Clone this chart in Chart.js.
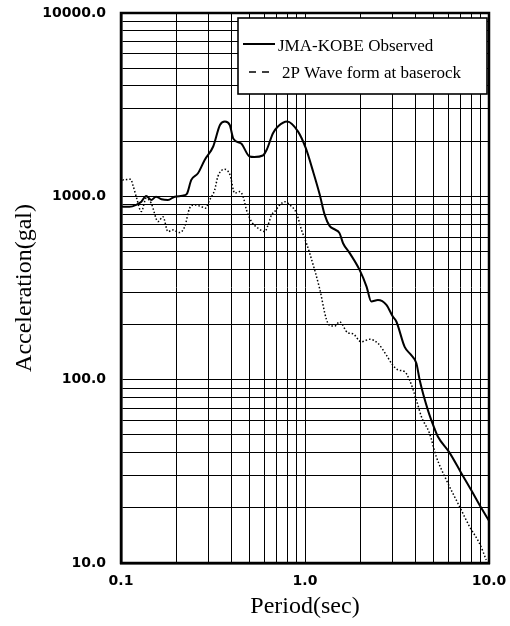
<!DOCTYPE html>
<html>
<head>
<meta charset="utf-8">
<script src="https://cdn.jsdelivr.net/npm/chart.js@4.4.1/dist/chart.umd.min.js"></script>
<style>
  body { margin: 0; background: #fff; }
  #wrap { width: 510px; height: 626px; position: relative; }
</style>
</head>
<body>
<div id="wrap"><canvas id="chart"></canvas></div>
<script>
// JMA-KOBE observed spectrum (period in sec, acceleration in gal)
const obsPeriod = [0.1, 0.111, 0.121, 0.129, 0.137, 0.146, 0.155, 0.166, 0.18, 0.196, 0.222, 0.229, 0.241, 0.262, 0.285, 0.317, 0.345, 0.367, 0.39, 0.408, 0.45, 0.5, 0.53, 0.59, 0.62, 0.67, 0.715, 0.8, 0.917, 1.01, 1.107, 1.2, 1.28, 1.36, 1.45, 1.54, 1.61, 1.75, 1.98, 2.16, 2.29, 2.49, 2.77, 3.0, 3.14, 3.48, 3.78, 4.03, 4.2, 4.66, 5.06, 5.27, 6.1, 7.06, 8.0, 9.07, 10.0];
const obsAccel = [879, 876, 898, 935, 1005, 955, 996, 964, 955, 996, 1014, 1040, 1229, 1336, 1580, 1870, 2450, 2557, 2450, 2060, 1940, 1650, 1640, 1670, 1800, 2210, 2410, 2560, 2254, 1830, 1364, 1030, 792, 690, 660, 630, 555, 490, 397, 322, 267, 272, 256, 221, 207, 151, 136, 123, 99.6, 68, 54, 49, 40, 31, 25, 20, 17];

// 2P wave form at baserock
const basePeriod = [0.1, 0.102, 0.113, 0.116, 0.121, 0.129, 0.137, 0.146, 0.159, 0.169, 0.18, 0.191, 0.208, 0.222, 0.236, 0.251, 0.273, 0.287, 0.303, 0.323, 0.336, 0.366, 0.391, 0.415, 0.443, 0.461, 0.481, 0.512, 0.556, 0.605, 0.63, 0.658, 0.685, 0.729, 0.776, 0.826, 0.899, 0.957, 1.018, 1.06, 1.2, 1.31, 1.39, 1.45, 1.54, 1.71, 1.82, 2.02, 2.25, 2.49, 2.77, 3.0, 3.2, 3.48, 3.7, 4.03, 4.29, 4.75, 5.17, 5.86, 6.92, 7.84, 8.88, 9.66];
const baseAccel = [1282, 1229, 1240, 1154, 996, 826, 977, 917, 728, 775, 642, 656, 634, 684, 861, 898, 879, 861, 955, 1084, 1282, 1406, 1310, 1040, 1061, 996, 843, 728, 670, 642, 698, 792, 826, 898, 935, 898, 809, 656, 555, 490, 315, 212, 196, 196, 207, 180, 178, 161, 166, 158, 136, 120, 113, 110.6, 99.6, 77.5, 62.9, 51, 38, 28.4, 20.3, 15.8, 12.8, 10.4];

const seriesNames = ["JMA-KOBE Observed", "2P Wave form at baserock"];
const xDecades = [0.1, 1, 10];
const yDecades = [10, 100, 1000, 10000];

const toPoints = (xs, ys) => xs.map((x, i) => ({ x: x, y: ys[i] }));

// 1..9 x each decade, last decade only its first line
const logTicks = (decades) => {
  const out = [];
  decades.forEach((d, i) => {
    if (i === decades.length - 1) { out.push({ value: d }); return; }
    for (let k = 1; k <= 9; k++) out.push({ value: d * k });
  });
  return out;
};
const isDecade = (v) => Math.abs(Math.log10(v) - Math.round(Math.log10(v))) < 1e-9;

const tickFont = { family: "DejaVu Sans", size: 14, weight: "bold" };
const titleFont = { family: "Liberation Serif", size: 24, lineHeight: 1.2 };

const frameAndLegend = {
  id: "frameAndLegend",
  afterDraw(chart) {
    const { ctx, chartArea: ca } = chart;
    ctx.save();
    // heavy plot frame
    ctx.strokeStyle = "#000";
    ctx.lineWidth = 2.5;
    ctx.strokeRect(ca.left, ca.top, ca.right - ca.left, ca.bottom - ca.top);

    // legend box inside the top right corner
    const bx = ca.right - 251, by = ca.top + 5, bw = 249, bh = 76;
    ctx.fillStyle = "#fff";
    ctx.fillRect(bx, by, bw, bh);
    ctx.lineWidth = 1.6;
    ctx.strokeRect(bx, by, bw, bh);

    ctx.font = "17px 'Liberation Serif'";
    ctx.fillStyle = "#000";
    ctx.textBaseline = "middle";
    const ds = chart.data.datasets;

    ctx.lineWidth = 2;
    ctx.setLineDash([]);
    ctx.beginPath();
    ctx.moveTo(bx + 5, by + 26);
    ctx.lineTo(bx + 37, by + 26);
    ctx.stroke();
    ctx.fillText(ds[0].label, bx + 40, by + 29);

    ctx.lineWidth = 1.6;
    ctx.setLineDash([7, 6]);
    ctx.beginPath();
    ctx.moveTo(bx + 11, by + 54);
    ctx.lineTo(bx + 31, by + 54);
    ctx.stroke();
    ctx.setLineDash([]);
    ctx.fillText(ds[1].label, bx + 44, by + 56);
    ctx.restore();
  }
};

new Chart(document.getElementById("chart"), {
  type: "line",
  data: {
    datasets: [
      {
        label: seriesNames[0],
        data: toPoints(obsPeriod, obsAccel),
        borderColor: "#000",
        borderWidth: 2,
        pointRadius: 0,
        cubicInterpolationMode: "monotone"
      },
      {
        label: seriesNames[1],
        data: toPoints(basePeriod, baseAccel),
        borderColor: "#000",
        borderWidth: 1.5,
        borderDash: [1.5, 2],
        pointRadius: 0,
        cubicInterpolationMode: "monotone"
      }
    ]
  },
  options: {
    responsive: true,
    maintainAspectRatio: false,
    animation: false,
    layout: { padding: { left: 0, right: 21, top: 13, bottom: 0 } },
    plugins: {
      legend: { display: false },
      tooltip: { enabled: false }
    },
    scales: {
      x: {
        type: "logarithmic",
        min: 0.1,
        max: 10,
        afterBuildTicks: (s) => { s.ticks = logTicks(xDecades); },
        afterFit: (s) => {
          s.height = 63;
          s.paddingLeft = 0;
          s.paddingRight = 0;
        },
        ticks: {
          autoSkip: false,
          maxRotation: 0,
          padding: 10,
          color: "#000",
          font: tickFont,
          callback: (v) => (isDecade(v) ? Number(v).toFixed(1) : "")
        },
        grid: { color: "#000", lineWidth: 1, drawTicks: false },
        border: { color: "#000", width: 2.5 },
        title: {
          display: true,
          text: "Period(sec)",
          color: "#000",
          font: titleFont,
          padding: { top: 0, bottom: 5 }
        }
      },
      y: {
        type: "logarithmic",
        min: 10,
        max: 10000,
        afterBuildTicks: (s) => { s.ticks = logTicks(yDecades); },
        afterFit: (s) => {
          s.width = 121;
          s.paddingTop = 0;
          s.paddingBottom = 0;
        },
        ticks: {
          autoSkip: false,
          padding: 15,
          color: "#000",
          font: tickFont,
          callback: (v) => (isDecade(v) ? Number(v).toFixed(1) : "")
        },
        grid: { color: "#000", lineWidth: 1, drawTicks: false },
        border: { color: "#000", width: 2.5 },
        title: {
          display: true,
          text: "Acceleration(gal)",
          color: "#000",
          font: titleFont,
          padding: { top: 10, bottom: 0 }
        }
      }
    }
  },
  plugins: [frameAndLegend]
});
</script>
</body>
</html>
